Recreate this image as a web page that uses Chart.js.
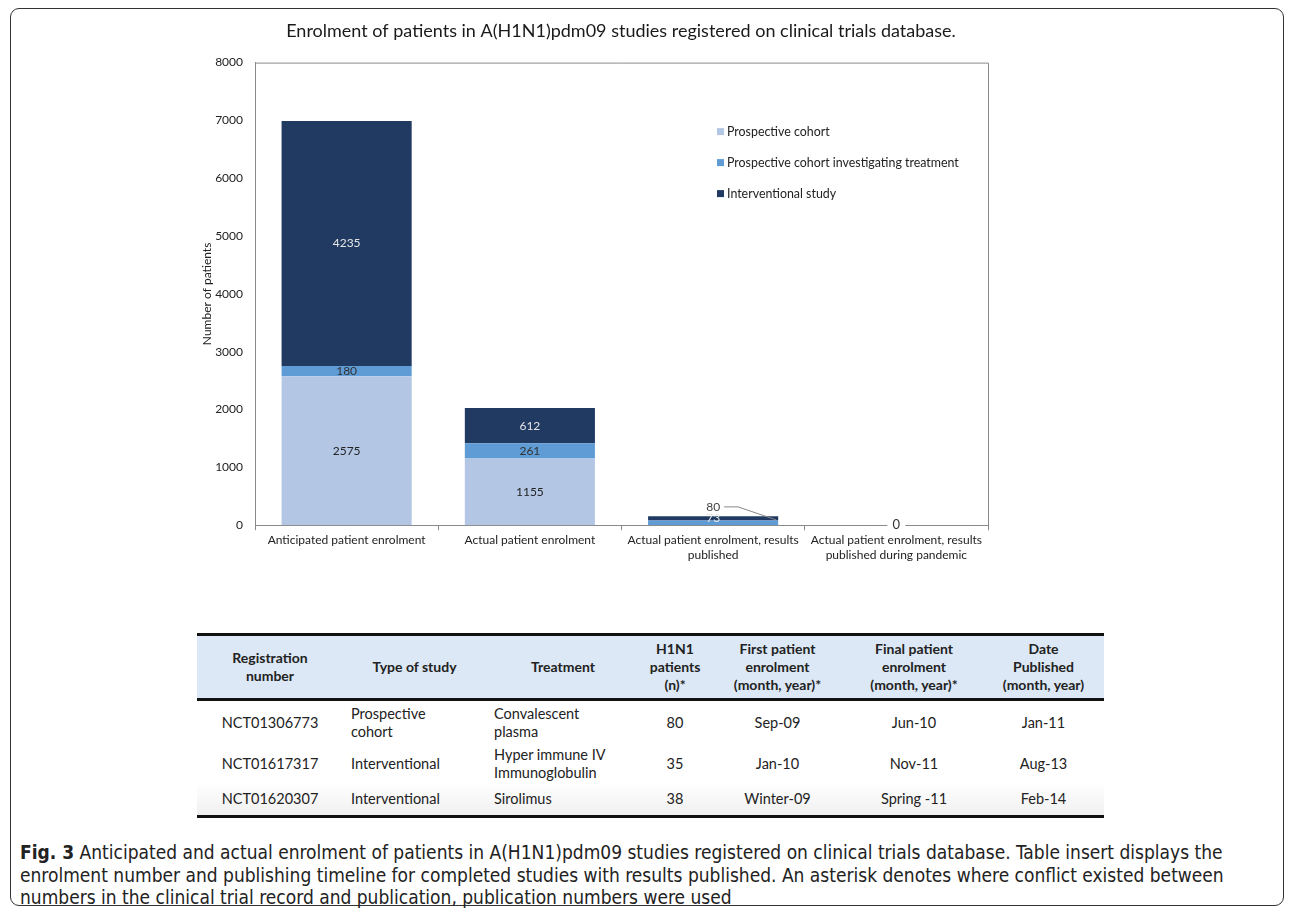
<!DOCTYPE html>
<html>
<head>
<meta charset="utf-8">
<script src="https://cdn.jsdelivr.net/npm/chart.js@4.4.0/dist/chart.umd.min.js"></script>
<style>
  body { margin:0; background:#fff; width:1292px; height:915px; position:relative; overflow:hidden; }
  #frame { position:absolute; left:10px; top:8px; width:1272px; height:896px; border:1.5px solid #333; border-radius:9px; }
  #chartBox { position:absolute; left:150px; top:14px; width:918px; height:551px; }
  table { position:absolute; left:197px; top:633px; width:907px; border-collapse:collapse; table-layout:fixed; font-family:Lato, sans-serif; color:#222; }
  th { background:#dce8f5; font-weight:bold; font-size:14px; line-height:18px; padding:4px 2px; border-top:3px solid #111; border-bottom:3px solid #111; text-align:center; }
  td { font-size:14.5px; line-height:18px; padding:0 2px; text-align:center; }
  td.l { text-align:left; padding-left:8px; }
  tr.r1 td { height:44px; }
  tr.r2 td { height:38px; }
  tr.last td { height:32px; background:linear-gradient(#fff,#f0f0f0); border-bottom:3px solid #111; }
  #caption { position:absolute; left:20px; top:841px; width:1260px; font-family:"Liberation Sans Narrow","DejaVu Sans Condensed",sans-serif; font-size:19px; line-height:22.5px; color:#222; }
</style>
</head>
<body>
<div id="frame"></div>
<div id="chartBox"><canvas id="enrolChart"></canvas></div>

<table>
  <colgroup><col style="width:146px"><col style="width:143px"><col style="width:154px"><col style="width:70px"><col style="width:135px"><col style="width:138px"><col style="width:121px"></colgroup>
  <tr><th>Registration<br>number</th><th>Type of study</th><th>Treatment</th><th>H1N1<br>patients<br>(n)*</th><th>First patient<br>enrolment<br>(month, year)*</th><th>Final patient<br>enrolment<br>(month, year)*</th><th>Date<br>Published<br>(month, year)</th></tr>
  <tr class="r1"><td>NCT01306773</td><td class="l">Prospective<br>cohort</td><td class="l">Convalescent<br>plasma</td><td>80</td><td>Sep-09</td><td>Jun-10</td><td>Jan-11</td></tr>
  <tr class="r2"><td>NCT01617317</td><td class="l">Interventional</td><td class="l">Hyper immune IV<br>Immunoglobulin</td><td>35</td><td>Jan-10</td><td>Nov-11</td><td>Aug-13</td></tr>
  <tr class="last"><td>NCT01620307</td><td class="l">Interventional</td><td class="l">Sirolimus</td><td>38</td><td>Winter-09</td><td>Spring -11</td><td>Feb-14</td></tr>
</table>

<div id="caption"><b>Fig. 3</b> Anticipated and actual enrolment of patients in A(H1N1)pdm09 studies registered on clinical trials database. Table insert displays the enrolment number and publishing timeline for completed studies with results published. An asterisk denotes where conflict existed between numbers in the clinical trial record and publication, publication numbers were used</div>

<script>
// chart data
const categories = [
  'Anticipated patient enrolment',
  'Actual patient enrolment',
  ['Actual patient enrolment, results', 'published'],
  ['Actual patient enrolment, results', 'published during pandemic']
];
const prospectiveCohort = [2575, 1155, 0, 0];
const prospectiveTreatment = [180, 261, 80, 0];
const interventional = [4235, 612, 73, 0];
const yTicks = [0, 1000, 2000, 3000, 4000, 5000, 6000, 7000, 8000];

const seriesNames = ['Prospective cohort', 'Prospective cohort investigating treatment', 'Interventional study'];
const seriesColors = ['#b3c7e5', '#5f9bd5', '#213a62'];
const labelColors = ['#222', '#333', '#e6e6e6'];

const fontFam = 'Lato, "Open Sans", sans-serif';

// box round plot area + custom legend inside it
const framePlugin = {
  id: 'framePlugin',
  afterDraw(chart) {
    const ctx = chart.ctx, a = chart.chartArea;
    ctx.save();
    ctx.strokeStyle = '#8a8a8a';
    ctx.lineWidth = 1;
    ctx.beginPath();
    ctx.moveTo(a.left, a.top + 0.5);
    ctx.lineTo(a.right + 0.5, a.top + 0.5);
    ctx.lineTo(a.right + 0.5, a.bottom);
    ctx.stroke();

    // legend
    ctx.font = '12.4px ' + fontFam;
    ctx.textBaseline = 'middle';
    seriesNames.forEach((n, i) => {
      const y = a.top + 69 + i * 31;
      ctx.fillStyle = seriesColors[i];
      ctx.fillRect(a.left + 462, y - 3.5, 7, 7);
      ctx.fillStyle = '#222';
      ctx.fillText(n, a.left + 472, y);
    });
    ctx.restore();
  }
};

// value labels on the bar segments
const valueLabels = {
  id: 'valueLabels',
  afterDatasetsDraw(chart) {
    const ctx = chart.ctx;
    ctx.save();
    ctx.font = '12px ' + fontFam;
    ctx.textAlign = 'center';
    ctx.textBaseline = 'middle';
    chart.data.datasets.forEach((ds, di) => {
      chart.getDatasetMeta(di).data.forEach((bar, i) => {
        const v = ds.data[i];
        if (v === 0) return;
        const cx = bar.x, cy = (bar.y + bar.base) / 2;
        if (i === 2 && di === 1) {
          // small segment: label above with leader line
          ctx.fillStyle = '#444';
          ctx.fillText(v, cx, cy - 16);
          ctx.strokeStyle = '#888';
          ctx.beginPath();
          ctx.moveTo(cx + 11, cy - 16);
          ctx.lineTo(cx + 25, cy - 16);
          ctx.lineTo(cx + 63, cy - 3);
          ctx.stroke();
          return;
        }
        ctx.fillStyle = labelColors[di];
        ctx.fillText(v, cx, cy);
      });
    });
    // zero total in last category
    const bar = chart.getDatasetMeta(0).data[3];
    ctx.fillStyle = '#fff';
    ctx.fillRect(bar.x - 9, bar.base - 8, 18, 15);
    ctx.fillStyle = '#333';
    ctx.font = '13px ' + fontFam;
    ctx.fillText('0', bar.x, bar.base);
    ctx.restore();
  }
};

new Chart(document.getElementById('enrolChart'), {
  type: 'bar',
  data: {
    labels: categories,
    datasets: [
      { label: seriesNames[0], data: prospectiveCohort, backgroundColor: seriesColors[0] },
      { label: seriesNames[1], data: prospectiveTreatment, backgroundColor: seriesColors[1] },
      { label: seriesNames[2], data: interventional, backgroundColor: seriesColors[2] }
    ]
  },
  options: {
    responsive: true,
    maintainAspectRatio: false,
    animation: false,
    datasets: { bar: { categoryPercentage: 0.71, barPercentage: 1 } },
    layout: { padding: { left: 46, right: 22, bottom: 0 } },
    plugins: {
      legend: { display: false },
      tooltip: { enabled: false },
      title: {
        display: true,
        text: 'Enrolment of patients in A(H1N1)pdm09 studies registered on clinical trials database.',
        color: '#1a1a1a',
        font: { family: fontFam, size: 18, weight: 'normal' },
        padding: { top: 6, bottom: 21 }
      }
    },
    scales: {
      x: {
        stacked: true,
        grid: { display: true, drawOnChartArea: false, drawTicks: true, tickLength: 5, color: '#8a8a8a', offset: true },
        border: { color: '#8a8a8a' },
        ticks: { color: '#222', font: { family: fontFam, size: 12 }, maxRotation: 0, padding: 3 }
      },
      y: {
        stacked: true,
        min: 0, max: 8000,
        afterBuildTicks(s) { s.ticks = yTicks.map(v => ({ value: v })); },
        afterFit(s) { s.width = 59; },
        grid: { display: false },
        border: { color: '#8a8a8a' },
        title: { display: true, text: 'Number of patients', color: '#222', font: { family: fontFam, size: 12 }, padding: 4 },
        ticks: { color: '#222', font: { family: fontFam, size: 12 }, padding: 4, callback: v => String(v) }
      },
      // empty right-hand spacer so the title centres over the plot
      yRight: {
        position: 'right',
        afterFit(s) { s.width = 58; },
        grid: { display: false },
        border: { display: false },
        ticks: { display: false }
      }
    }
  },
  plugins: [framePlugin, valueLabels]
});
</script>
</body>
</html>
